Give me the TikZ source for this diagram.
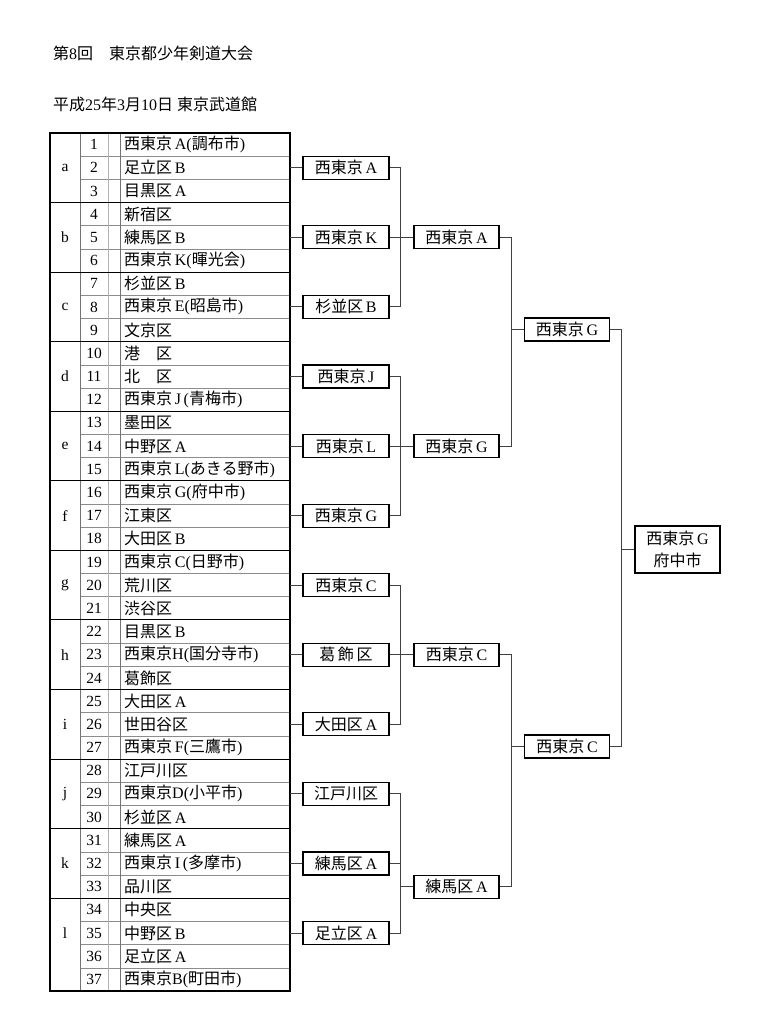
\documentclass[tikz,border=0pt]{standalone}
\usepackage{fontspec}
\setmainfont{Liberation Serif}
\newfontfamily\cjk{Noto Sans CJK JP}
\newcommand\J[1]{{\cjk #1}}
\tikzset{
  txt/.style={inner sep=0pt, font=\fontsize{16}{19}\selectfont},
  nm/.style={txt, anchor=west},
  num/.style={inner sep=0pt, font=\fontsize{15.5}{18}\selectfont},
  bx/.style={txt, draw=black, line width=1.1pt, fill=white, minimum width=86pt, minimum height=23pt},
  br/.style={draw=black!75, line width=0.9pt},
  rowline/.style={draw=black!45, line width=0.6pt},
  grpline/.style={draw=black, line width=1pt},
}
\begin{document}
\begin{tikzpicture}[x=1pt, y=-1pt]
\useasboundingbox (0,0) rectangle (760,1021);
% titles
\node[nm] (title) at (53,53) {\J{第}8\J{回}\quad\J{東京都少年剣道大会}};
\node[nm] (date) at (53,104) {\J{平成}25\J{年}3\J{月}10\J{日}\ \J{東京武道館}};
% table lines
\foreach \i in {1,2,4,5,7,8,10,11,13,14,16,17,19,20,22,23,25,26,28,29,31,32,34,35,36}
  \draw[rowline] (80,{133+\i*23.189}) -- (290,{133+\i*23.189});
\draw[draw=black!55, line width=0.6pt] (80,133) -- (80,991);
\draw[draw=black!30, line width=0.6pt] (108,133) -- (108,991);
\draw[draw=black!55, line width=0.6pt] (120,133) -- (120,991);
\foreach \i in {3,6,...,33}
  \draw[grpline] (50,{133+\i*23.189}) -- (290,{133+\i*23.189});
\draw[black, line width=1.2pt] (50,133) rectangle (290,991);
% group letters
\foreach \g/\r in {a/2,b/5,c/8,d/11,e/14,f/17,g/20,h/23,i/26,j/29,k/32,l/35}
  \node[num] (grp\g) at (65,{133+(\r-0.5)*23.189}) {\g};
% rows
\foreach \n/\t in {
 1/{\J{西東京}\,A(\J{調布市})},
 2/{\J{足立区}\,B},
 3/{\J{目黒区}\,A},
 4/{\J{新宿区}},
 5/{\J{練馬区}\,B},
 6/{\J{西東京}\,K(\J{暉光会})},
 7/{\J{杉並区}\,B},
 8/{\J{西東京}\,E(\J{昭島市})},
 9/{\J{文京区}},
 10/{\J{港　区}},
 11/{\J{北　区}},
 12/{\J{西東京}\,J\,(\J{青梅市})},
 13/{\J{墨田区}},
 14/{\J{中野区}\,A},
 15/{\J{西東京}\,L(\J{あきる野市})},
 16/{\J{西東京}\,G(\J{府中市})},
 17/{\J{江東区}},
 18/{\J{大田区}\,B},
 19/{\J{西東京}\,C(\J{日野市})},
 20/{\J{荒川区}},
 21/{\J{渋谷区}},
 22/{\J{目黒区}\,B},
 23/{\J{西東京}H(\J{国分寺市})},
 24/{\J{葛飾区}},
 25/{\J{大田区}\,A},
 26/{\J{世田谷区}},
 27/{\J{西東京}\,F(\J{三鷹市})},
 28/{\J{江戸川区}},
 29/{\J{西東京}D(\J{小平市})},
 30/{\J{杉並区}\,A},
 31/{\J{練馬区}\,A},
 32/{\J{西東京}\,I\,(\J{多摩市})},
 33/{\J{品川区}},
 34/{\J{中央区}},
 35/{\J{中野区}\,B},
 36/{\J{足立区}\,A},
 37/{\J{西東京}B(\J{町田市})}}
{
  \node[num] (k\n) at (94,{133+(\n-0.5)*23.189}) {\n};
  \node[nm] (n\n) at (124,{133+(\n-0.5)*23.189}) {\t};
}
% round 1 boxes
\foreach \r/\t in {2/{\J{西東京}\,A}, 5/{\J{西東京}\,K}, 8/{\J{杉並区}\,B},
  11/{\J{西東京}\,J}, 14/{\J{西東京}\,L}, 17/{\J{西東京}\,G},
  20/{\J{西東京}\,C}, 23/{\J{葛\,飾\,区}}, 26/{\J{大田区}\,A},
  29/{\J{江戸川区}}, 32/{\J{練馬区}\,A}, 35/{\J{足立区}\,A}}
{
  \coordinate (e\r) at (290,{133+(\r-0.5)*23.189});
  \node[bx] (b\r) at (346,{133+(\r-0.5)*23.189}) {\t};
  \draw[br] (e\r) -- (b\r.west);
}
% round 2 boxes
\node[bx, minimum width=85pt] (q1) at (456.5,{133+4.5*23.189}) {\J{西東京}\,A};
\node[bx, minimum width=85pt] (q2) at (456.5,{133+13.5*23.189}) {\J{西東京}\,G};
\node[bx, minimum width=85pt] (q3) at (456.5,{133+22.5*23.189}) {\J{西東京}\,C};
\node[bx, minimum width=85pt] (q4) at (456.5,{133+32.5*23.189}) {\J{練馬区}\,A};
% semifinals
\node[bx, minimum width=85pt] (s1) at (567,329.5) {\J{西東京}\,G};
\node[bx, minimum width=85pt] (s2) at (567,746.5) {\J{西東京}\,C};
% final
\node[bx, minimum width=85pt, minimum height=47pt, align=center] (fin) at (677.5,549.5) {\J{西東京}\,G\\[3pt]\J{府中市}};
% junction columns
\coordinate (j1) at (400,0);
\coordinate (j2) at (511,0);
\coordinate (j3) at (621,0);
% round 1 -> round 2
\draw[br] (b2.east) -- (b2.east -| j1) -- (b8.east -| j1) -- (b8.east);
\draw[br] (b5.east) -- (q1.west);
\draw[br] (b11.east) -- (b11.east -| j1) -- (b17.east -| j1) -- (b17.east);
\draw[br] (b14.east) -- (q2.west);
\draw[br] (b20.east) -- (b20.east -| j1) -- (b26.east -| j1) -- (b26.east);
\draw[br] (b23.east) -- (q3.west);
\draw[br] (b29.east) -- (b29.east -| j1) -- (b35.east -| j1) -- (b35.east);
\draw[br] (b32.east) -- (b32.east -| j1);
\draw[br] (q4.west -| j1) -- (q4.west);
% round 2 -> semis
\draw[br] (q1.east) -- (q1.east -| j2) -- (q2.east -| j2) -- (q2.east);
\draw[br] (s1.west -| j2) -- (s1.west);
\draw[br] (q3.east) -- (q3.east -| j2) -- (q4.east -| j2) -- (q4.east);
\draw[br] (s2.west -| j2) -- (s2.west);
% semis -> final
\draw[br] (s1.east) -- (s1.east -| j3) -- (s2.east -| j3) -- (s2.east);
\draw[br] (fin.west -| j3) -- (fin.west);
\end{tikzpicture}
\end{document}
